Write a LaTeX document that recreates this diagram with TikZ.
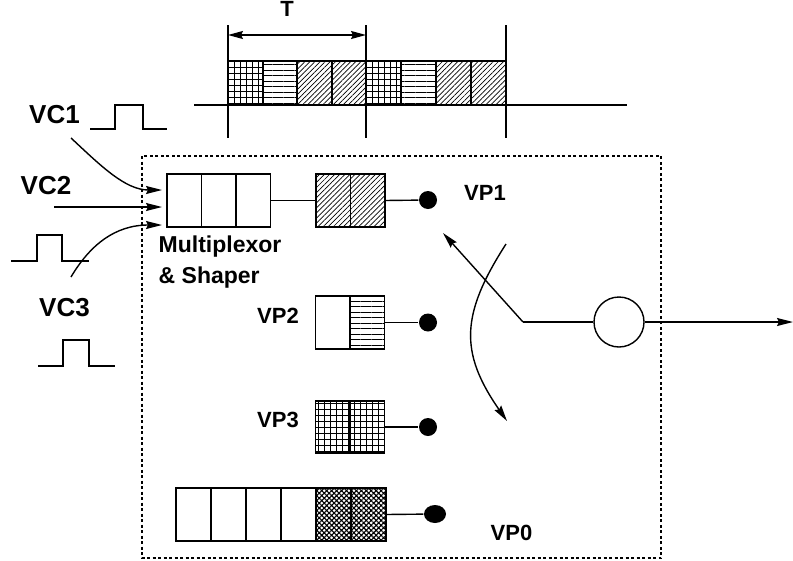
\documentclass[tikz,border=0pt]{standalone}
\usepackage{fontspec}
\setmainfont{Liberation Sans}
\usetikzlibrary{arrows.meta,patterns,patterns.meta,calc,shapes.geometric}
\begin{document}
\begin{tikzpicture}[x=1pt,y=-1pt,
  line width=1.4pt,
  cell/.style={draw, line width=1.4pt, minimum width=34.5pt, minimum height=53pt,
               inner sep=0pt, outer sep=0pt, anchor=north west},
  slot/.style={cell, minimum height=44pt},
  grd/.style={pattern={Hatch[angle=0,distance=6pt,line width=1pt]}},
  hln/.style={pattern={Lines[angle=0,distance=5.5pt,line width=1pt]}},
  dgl/.style={pattern={Lines[angle=45,distance=3.6pt,line width=0.7pt]}},
  xht/.style={pattern={Hatch[angle=45,distance=3.5pt,line width=1.1pt]}},
  lbl/.style={font=\bfseries\fontsize{22}{26}\selectfont, inner sep=0pt, anchor=base},
  muxlbl/.style={lbl, font=\bfseries\fontsize{23}{27}\selectfont, anchor=base west},
  vclbl/.style={lbl, font=\bfseries\fontsize{26}{30}\selectfont},
  dot/.style={circle, fill, minimum size=18pt, inner sep=0pt},
  tip/.style={-{Stealth[length=16pt,width=8pt,inset=2pt]}},
  frame/.style={line width=1.1pt, dash pattern=on 3pt off 2.5pt},
]
\useasboundingbox (0,0) rectangle (793,560);

% ---- time frame of length T ----
\node[slot,grd] (t1) at (228,61) {};
\node[slot,hln] (t2) at (263,61) {};
\node[slot,dgl] (t3) at (297,61) {};
\node[slot,dgl] (t4) at (332,61) {};
\node[slot,grd] (t5) at (366,61) {};
\node[slot,hln] (t6) at (401,61) {};
\node[slot,dgl] (t7) at (436,61) {};
\node[slot,dgl] (t8) at (471,61) {};
\coordinate (axl) at (194,105);
\coordinate (axr) at (627,105);
\draw (axl) -- (axr);
\coordinate (v1t) at (228,25);  \coordinate (v1b) at (228,138);
\coordinate (v2t) at (366,25);  \coordinate (v2b) at (366,138);
\coordinate (v3t) at (506,25);  \coordinate (v3b) at (506,138);
\draw (v1t) -- (v1b);
\draw (v2t) -- (v2b);
\draw (v3t) -- (v3b);
\coordinate (ta) at (228,35);
\coordinate (tb) at (366,35);
\draw[{Stealth[length=15pt,width=8pt,inset=2pt]}-{Stealth[length=15pt,width=8pt,inset=2pt]}] (ta) -- (tb);
\node[lbl] (T) at (287,16.5) {T};

% ---- switch box ----
\draw[frame] (142,156) rectangle (661,558);

% ---- incoming virtual channels ----
\node[vclbl] (vc1) at (54.5,123) {VC1};
\node[vclbl] (vc2) at (46,194) {VC2};
\node[vclbl] (vc3) at (64.5,316) {VC3};
\draw (90,129) -- (115,129) -- (115,105) -- (143,105) -- (143,129) -- (167,129);
\draw (11,261) -- (37,261) -- (37,235) -- (62,235) -- (62,261) -- (89,261);
\draw (38,366) -- (63,366) -- (63,340) -- (89,340) -- (89,366) -- (115,366);

% multiplexor queue
\node[cell] (m1) at (167,174) {};
\node[cell] (m2) at (201.5,174) {};
\node[cell] (m3) at (236,174) {};
\node[muxlbl] (mux) at (158,252) {Multiplexor};
\node[muxlbl] (shp) at (158,283) {\& Shaper};

\coordinate (in1) at (71,138);
\coordinate (in2) at (54,207);
\coordinate (in3) at (71,277);
\coordinate (e1) at ($(m1.west)+(-5,-10.5)$);
\coordinate (e2) at ($(m1.west)+(-5,6.5)$);
\coordinate (e3) at ($(m1.west)+(-5,24.5)$);
\draw[tip] (in1) .. controls (100,165) and (125,190) .. (e1);
\draw[tip] (in2) -- (e2);
\draw[tip] (in3) .. controls (90,245) and (115,225) .. (e3);

% ---- virtual paths ----
\node[cell,dgl] (p1a) at (316,174) {};
\node[cell,dgl] (p1b) at (350.5,174) {};
\node[dot] (d1) at (428,200) {};
\node[lbl] (vp1) at (485,200) {VP1};
\draw (m3.east) -- (p1a.west);
\draw (p1b.east) -- (d1);

\node[cell] (p2a) at (315.5,296) {};
\node[cell,hln] (p2b) at (350,296) {};
\node[dot] (d2) at (428,322.5) {};
\node[lbl] (vp2) at (278,323) {VP2};
\draw (p2b.east) -- (d2);

\node[cell,grd,minimum height=52pt] (p3a) at (315.5,401) {};
\node[cell,grd,minimum height=52pt] (p3b) at (350,401) {};
\node[dot] (d3) at (428,427) {};
\node[lbl] (vp3) at (278,427) {VP3};
\draw (p3b.east) -- (d3);

\node[cell,minimum width=35pt] (q1) at (176,488) {};
\node[cell,minimum width=35pt] (q2) at (211,488) {};
\node[cell,minimum width=35pt] (q3) at (246,488) {};
\node[cell,minimum width=35pt] (q4) at (281,488) {};
\node[cell,minimum width=35pt,xht] (q5) at (316,488) {};
\node[cell,minimum width=35pt,xht] (q6) at (351,488) {};
\node[ellipse, fill, minimum width=22pt, minimum height=18pt, inner sep=0pt] (d0) at (435,514) {};
\node[lbl] (vp0) at (511.5,540) {VP0};
\draw (q6.east) -- (d0);

% ---- output switch ----
\coordinate (piv) at (523,322);
\coordinate (arm) at (443,233);
\node[circle, draw, minimum size=50pt, inner sep=0pt] (port) at (619,322) {};
\coordinate (out) at (793,322);
\draw[tip] (piv) -- (arm);
\draw (piv) -- (port.west);
\draw[tip] (port.east) -- (out);
\coordinate (swa) at (506,244);
\coordinate (swb) at (507,421);
\draw[tip] (swa) .. controls (461,314) and (459,352) .. (swb);
\end{tikzpicture}
\end{document}
